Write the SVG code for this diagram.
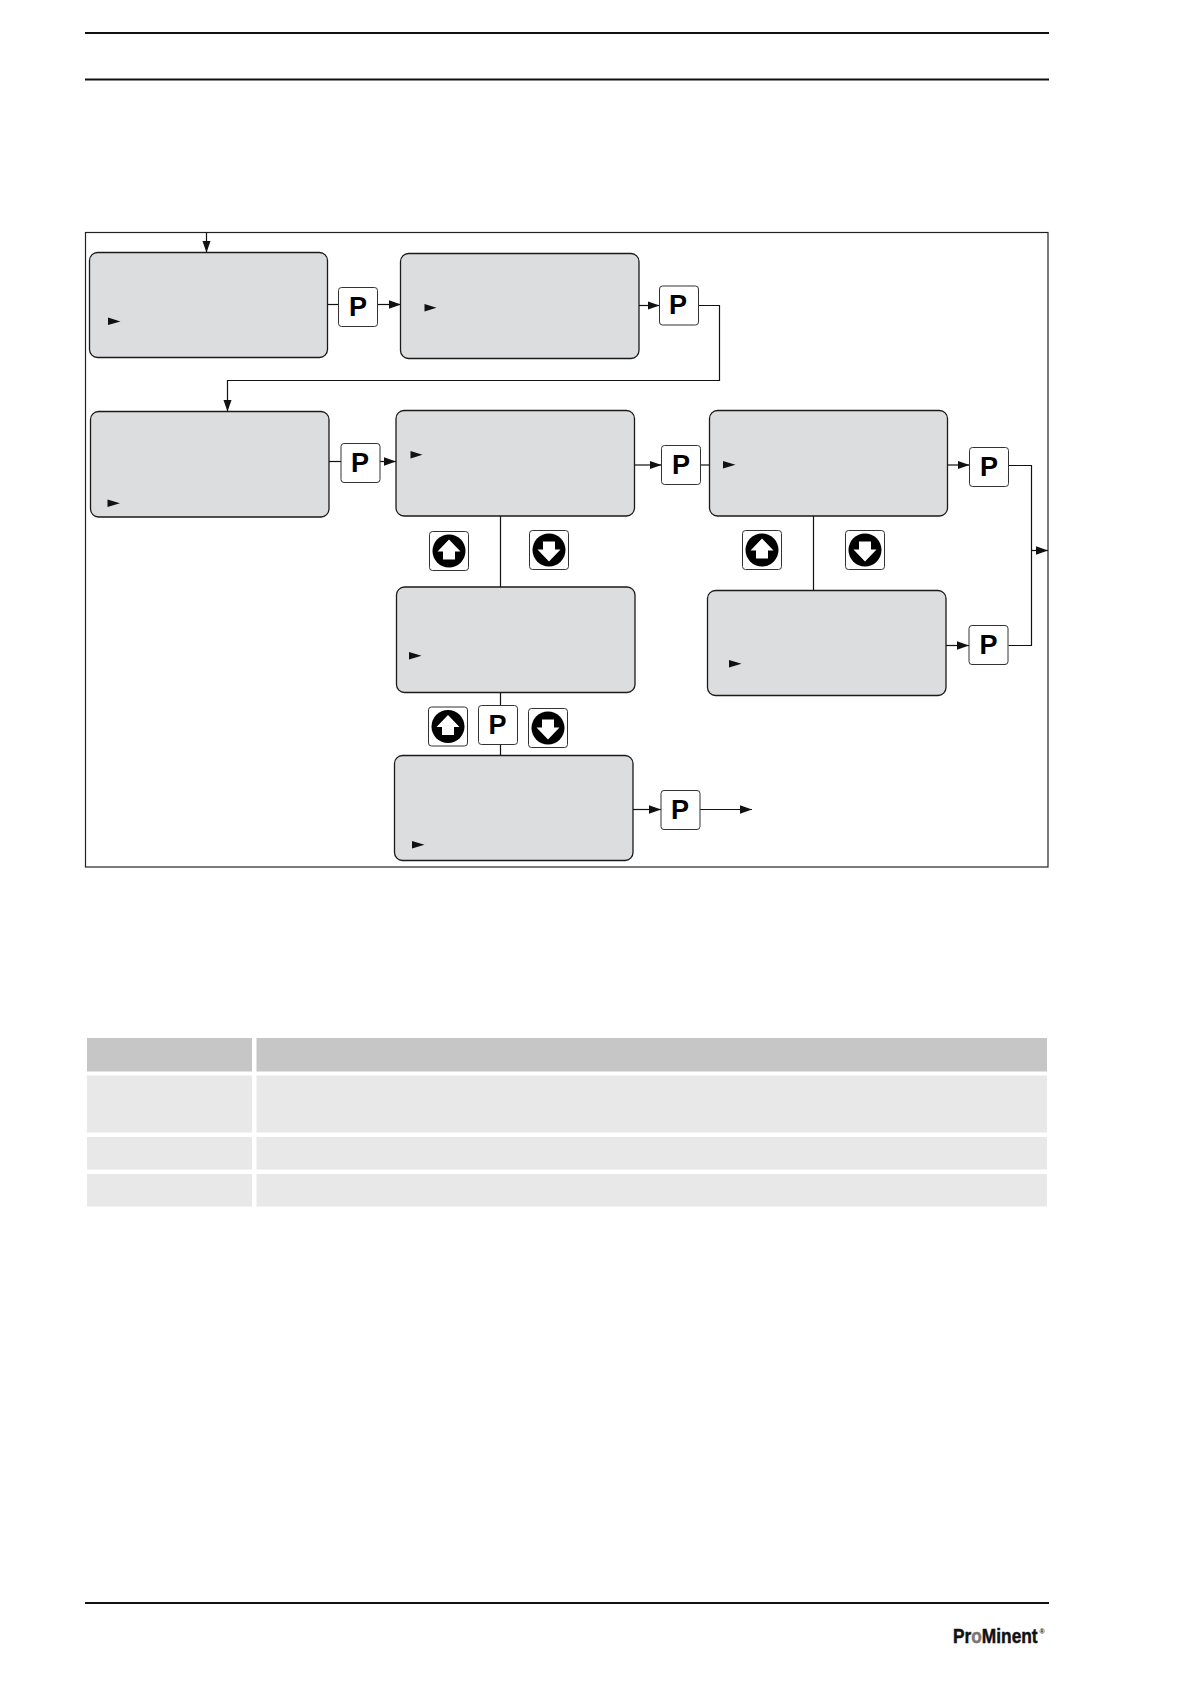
<svg xmlns="http://www.w3.org/2000/svg" width="1191" height="1684" viewBox="0 0 1191 1684">
<style>
.rule{stroke:#111;stroke-width:2;fill:none}
.frame{stroke:#222;stroke-width:1.2;fill:none}
.box{fill:#dcdddf;stroke:#1a1a1a;stroke-width:1.3}
.key{fill:#fff;stroke:#333;stroke-width:1}
.c{stroke:#111;stroke-width:1.2;fill:none}
.tri{fill:#111}
.pl{font-family:"Liberation Sans",Arial,sans-serif;font-weight:700;font-size:27px;fill:#000;text-anchor:middle}
.th{fill:#c6c6c6}
.td{fill:#e8e8e8}
.logo{font-family:"Liberation Sans",Arial,sans-serif;font-weight:700;fill:#111}
</style>
<defs>
<marker id="ah" markerUnits="userSpaceOnUse" markerWidth="13" markerHeight="11" refX="12" refY="5.5" orient="auto"><path d="M0 1.3 L12 5.5 L0 9.7 Z" fill="#111"/></marker>
<symbol id="up" viewBox="0 0 39 39" overflow="visible"><rect class="key" x="0" y="0" width="39" height="39" rx="3"/><circle cx="19.5" cy="19.5" r="16.5" fill="#000"/><path d="M19.5 8 L31 20 L25.5 20 L25.5 28 L13.5 28 L13.5 20 L8 20 Z" fill="#fff"/></symbol>
<symbol id="down" viewBox="0 0 39 39" overflow="visible"><rect class="key" x="0" y="0" width="39" height="39" rx="3"/><circle cx="19.5" cy="19.5" r="16.5" fill="#000"/><path d="M19.5 31 L31 19 L25.5 19 L25.5 11 L13.5 11 L13.5 19 L8 19 Z" fill="#fff"/></symbol>
</defs>
<rect width="1191" height="1684" fill="#fff"/>
<g id="page-rules">
<line class="rule" x1="85" y1="33" x2="1049" y2="33"/>
<line class="rule" x1="85" y1="79.5" x2="1049" y2="79.5"/>
<line class="rule" x1="85" y1="1603" x2="1049" y2="1603"/>
</g>
<rect id="frame" class="frame" x="85.5" y="232.5" width="962.5" height="634.5"/>
<g id="connectors">
<path class="c" marker-end="url(#ah)" d="M206.5 232.5V252.5"/>
<path class="c" d="M327.5 304.5H339"/>
<path class="c" marker-end="url(#ah)" d="M377.5 304.5H401"/>
<path class="c" marker-end="url(#ah)" d="M639 305.5H659.5"/>
<path class="c" marker-end="url(#ah)" d="M698.5 305.5H719.5V380.5H227.5V411.5"/>
<path class="c" d="M329 461.5H341"/>
<path class="c" marker-end="url(#ah)" d="M380 461.5H396"/>
<path class="c" marker-end="url(#ah)" d="M634.5 465H661.5"/>
<path class="c" d="M701 465H709.5"/>
<path class="c" d="M500.5 516V587"/>
<path class="c" d="M500.5 692.5V706"/>
<path class="c" d="M500.5 744.5V755.5"/>
<path class="c" d="M813.5 516V590.5"/>
<path class="c" marker-end="url(#ah)" d="M947.5 465H969.5"/>
<path class="c" d="M1008.5 465.5H1031.5V645.5H1008.5"/>
<path class="c" marker-end="url(#ah)" d="M946 645.5H969"/>
<path class="c" marker-end="url(#ah)" d="M1031.5 550.5H1048"/>
<path class="c" marker-end="url(#ah)" d="M633 809.5H661"/>
<path class="c" marker-end="url(#ah)" d="M700 809.5H752"/>
</g>
<g id="display-1"><rect class="box" x="89.5" y="252.5" width="238" height="105" rx="8"/><path class="tri" d="M108 317.5L120.5 321.5L108 325Z"/></g>
<g id="display-2"><rect class="box" x="400.5" y="253.5" width="238.5" height="105" rx="8"/><path class="tri" d="M424.5 304L436.5 307.7L424.5 311.5Z"/></g>
<g id="display-3"><rect class="box" x="90.5" y="411.5" width="238.5" height="105.5" rx="8"/><path class="tri" d="M107.5 499.5L120 503.3L107.5 507Z"/></g>
<g id="display-4"><rect class="box" x="396" y="410.5" width="238.5" height="105.5" rx="8"/><path class="tri" d="M410.5 451L422.5 454.7L410.5 458.5Z"/></g>
<g id="display-5"><rect class="box" x="709.5" y="410.5" width="238" height="105.5" rx="8"/><path class="tri" d="M723 461L735.5 464.7L723 468.5Z"/></g>
<g id="display-6"><rect class="box" x="396.5" y="587" width="238.5" height="105.5" rx="8"/><path class="tri" d="M409 652L421.5 655.7L409 659.5Z"/></g>
<g id="display-7"><rect class="box" x="394.5" y="755.5" width="238.5" height="105" rx="8"/><path class="tri" d="M412 841L424.5 844.7L412 848.5Z"/></g>
<g id="display-8"><rect class="box" x="707.5" y="590.5" width="238.5" height="105" rx="8"/><path class="tri" d="M729 660L741.5 663.7L729 667.5Z"/></g>
<g id="key-p1"><rect class="key" x="338.5" y="287.5" width="39" height="39" rx="3"/><text class="pl" x="358" y="315.5">P</text></g>
<g id="key-p2"><rect class="key" x="659.5" y="286" width="39" height="39" rx="3"/><text class="pl" x="678" y="314">P</text></g>
<g id="key-p3"><rect class="key" x="341" y="443.5" width="39" height="39" rx="3"/><text class="pl" x="360" y="471.5">P</text></g>
<g id="key-p4"><rect class="key" x="661.5" y="445.5" width="39" height="39" rx="3"/><text class="pl" x="681" y="473.5">P</text></g>
<g id="key-p5"><rect class="key" x="969.5" y="447.5" width="39" height="39" rx="3"/><text class="pl" x="989" y="475.5">P</text></g>
<g id="key-p6"><rect class="key" x="969" y="625.5" width="39" height="39" rx="3"/><text class="pl" x="988.5" y="654">P</text></g>
<g id="key-p7"><rect class="key" x="478.5" y="705.5" width="39" height="39" rx="3"/><text class="pl" x="497.5" y="734">P</text></g>
<g id="key-p8"><rect class="key" x="661" y="790.5" width="39" height="39" rx="3"/><text class="pl" x="680" y="819">P</text></g>
<g id="key-up1"><use href="#up" x="429.5" y="531.5" width="39" height="39"/></g>
<g id="key-down1"><use href="#down" x="529.5" y="530.5" width="39" height="39"/></g>
<g id="key-up2"><use href="#up" x="428.5" y="707" width="39" height="39"/></g>
<g id="key-down2"><use href="#down" x="528.5" y="708.5" width="39" height="39"/></g>
<g id="key-up3"><use href="#up" x="742.5" y="530.5" width="39" height="39"/></g>
<g id="key-down3"><use href="#down" x="845.5" y="530.5" width="39" height="39"/></g>
<g id="table">
<rect class="th" x="87" y="1038" width="165" height="33.5"/>
<rect class="th" x="256.5" y="1038" width="790.5" height="33.5"/>
<rect class="td" x="87" y="1075.5" width="165" height="57"/>
<rect class="td" x="256.5" y="1075.5" width="790.5" height="57"/>
<rect class="td" x="87" y="1137" width="165" height="32.5"/>
<rect class="td" x="256.5" y="1137" width="790.5" height="32.5"/>
<rect class="td" x="87" y="1174" width="165" height="32.5"/>
<rect class="td" x="256.5" y="1174" width="790.5" height="32.5"/>
</g>
<g id="logo"><text class="logo" transform="translate(953 1642.7) scale(.824 1)" font-size="21" stroke="#111" stroke-width="0.5">Pr<tspan fill="#777" stroke="#777">o</tspan>Minent</text><text class="logo" x="1039.5" y="1634" font-size="7">®</text></g>
</svg>
